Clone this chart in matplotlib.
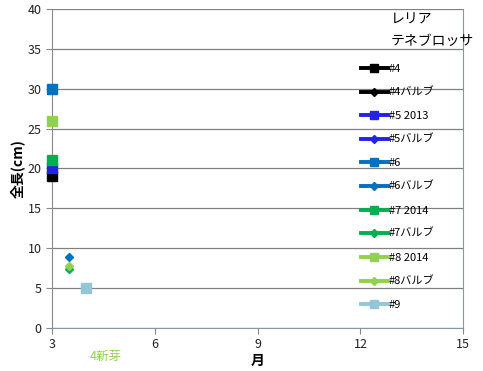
import matplotlib
matplotlib.use("Agg")
import matplotlib.pyplot as plt
import numpy as np

plt.rcParams['font.family'] = ['Noto Sans CJK JP', 'DejaVu Sans']

# series: label, x values, y values
labels = ["#4", "#4バルブ", "#5 2013", "#5バルブ", "#6", "#6バルブ",
          "#7 2014", "#7バルブ", "#8 2014", "#8バルブ", "#9"]
colors = ["#000000", "#000000", "#2323E6", "#2323E6", "#0070C0", "#0070C0",
          "#00B050", "#00B050", "#92D050", "#92D050", "#93C6D6"]
markers = ["s", "D", "s", "D", "s", "D", "s", "D", "s", "D", "s"]
x_vals = [[3], [3.5], [3], [3.5], [3], [3.5], [3], [3.5], [3], [3.5], [4]]
y_vals = [[19], [np.nan], [20], [np.nan], [30], [8.9], [21], [7.4], [26], [7.8], [5]]

x_ticks = [3, 6, 9, 12, 15]
y_ticks = [0, 5, 10, 15, 20, 25, 30, 35, 40]

fig = plt.figure(figsize=(4.83, 3.71), dpi=100)
ax = fig.add_axes([0.108, 0.116, 0.851, 0.86])

for lab, c, m, xs, ys in zip(labels, colors, markers, x_vals, y_vals):
    ms = 6.5 if m == "s" else 4.5
    ax.plot(xs, ys, color=c, marker=m, markersize=ms, linewidth=2.8,
            label=lab, zorder=3, clip_on=False)

ax.set_xlim(3, 15)
ax.set_ylim(0, 40)
ax.set_xticks(x_ticks)
ax.set_yticks(y_ticks)
ax.tick_params(labelsize=9, colors="#222222", length=4)
ax.tick_params(axis="x", direction="out", color="#888888")
ax.tick_params(axis="y", direction="out", color="#888888")
ax.grid(axis="y", color="#808080", linewidth=0.9)
ax.set_axisbelow(True)
ax.spines["top"].set_visible(False)
ax.spines["left"].set_color("#888888")
ax.spines["bottom"].set_color("#8497B0")
ax.spines["right"].set_color("#8497B0")

ax.set_xlabel("月", fontsize=10, fontweight="bold", labelpad=2)
ax.set_ylabel("全長(cm)", fontsize=10, fontweight="bold", labelpad=2)
fig.text(0.185, 0.03, "4新芽", color="#92D050", fontsize=9)

# legend title, aligned with the legend labels
fig.text(391 / 483, 1 - 20 / 371, "レリア", fontsize=10, va="center")
fig.text(391 / 483, 1 - 41 / 371, "テネブロッサ", fontsize=10, va="center")

leg = fig.legend(loc="upper left", bbox_to_anchor=(351 / 483, 1 - 54 / 371),
                 fontsize=8, frameon=False, labelspacing=1.22,
                 handlelength=2.4, handletextpad=0.1, markerscale=0.8)

fig.savefig("out.png", dpi=100)
